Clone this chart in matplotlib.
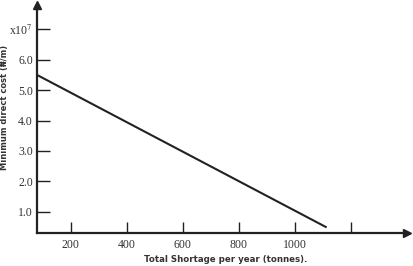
import matplotlib
matplotlib.use("Agg")
import matplotlib.pyplot as plt

# data
shortage = [80, 1110]          # tonnes per year
cost = [5.5, 0.5]              # x10^7 naira/m
x_ticks = [200, 400, 600, 800, 1000, 1200]
x_labels = ["200", "400", "600", "800", "1000", ""]
y_ticks = [1, 2, 3, 4, 5, 6, 7]
y_labels = ["1.0", "2.0", "3.0", "4.0", "5.0", "6.0", r"x10$^7$"]

plt.rcParams["mathtext.fontset"] = "stix"

fig = plt.figure(figsize=(4.14, 2.66), dpi=100)
ax = fig.add_axes([37 / 414, 33 / 266, 370 / 414, 228 / 266])

ax.plot(shortage, cost, color="#222222", linewidth=1.5)

ax.set_xlim(80, 1400)
ax.set_ylim(0.3, 7.8)

# axes with arrow heads
for side in ["top", "right"]:
    ax.spines[side].set_visible(False)
for side in ["left", "bottom"]:
    ax.spines[side].set_linewidth(1.6)
    ax.spines[side].set_color("#222222")
ax.plot(1, 0, ">", color="#222222", markersize=6, transform=ax.transAxes, clip_on=False)
ax.plot(0, 1, "^", color="#222222", markersize=6, transform=ax.transAxes, clip_on=False)

ax.set_xticks(x_ticks)
ax.set_xticklabels(x_labels, family="Liberation Serif", fontsize=8.5, color="#333333")
ax.set_yticks(y_ticks)
ax.set_yticklabels(y_labels, family="Liberation Serif", fontsize=8.5, color="#333333")
ax.tick_params(axis="x", direction="in", length=8, width=1, pad=4, color="#222222")
ax.tick_params(axis="y", direction="in", length=9, width=1, pad=3, color="#222222")

ax.set_xlabel("Total Shortage per year (tonnes).", fontsize=6.2, fontweight="bold",
              color="#333333")
ax.xaxis.set_label_coords(0.51, -0.095)
ax.set_ylabel("Minimum direct cost (₦/m)", fontsize=6.0, fontweight="bold",
              color="#333333")
ax.yaxis.set_label_coords(-0.075, 0.55)

fig.savefig("out.png", dpi=100)
